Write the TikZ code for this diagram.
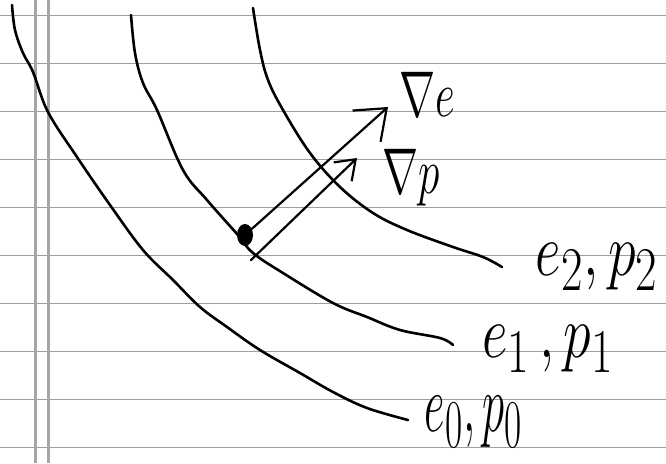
\documentclass[tikz,border=0pt]{standalone}
\usepackage{graphicx}
\usetikzlibrary{arrows.meta,shapes.geometric}
\begin{document}
\begin{tikzpicture}[x=1pt,y=-1pt,
  rule/.style={black!38,line width=0.9pt},
  marginline/.style={black!35,line width=3pt},
  level/.style={line width=2.6pt,line cap=round,line join=round},
  grad/.style={line width=2.2pt,line cap=round,line join=round},
  lab/.style={inner sep=0pt,font=\Huge}]
\fill[white] (0,0) rectangle (666,463);
\useasboundingbox (0,0) rectangle (666,463);
% ruled paper
\foreach \k in {0,...,9} \draw[rule] (0,{15+48*\k}) -- (666,{15+48*\k});
\draw[marginline] (35,0) -- (35,463);
\draw[marginline] (48,0) -- (48,463);
% level curves
\draw[level] plot[smooth,tension=0.6] coordinates {(12,5) (15,30) (23,53) (33,72) (48,112) (77,157) (110,205) (143,250) (173,280) (200,307) (227,327) (260,350) (300,373) (333,392) (367,408) (408,420)};
\draw[level] plot[smooth,tension=0.6] coordinates {(131,15) (135,53) (143,83) (157,110) (183,170) (207,200) (237,234) (253,253) (283,273) (333,303) (367,317) (400,330) (440,338) (453,345)};
\draw[level] plot[smooth,tension=0.6] coordinates {(253,8) (260,50) (268,80) (283,110) (310,153) (340,187) (373,213) (407,230) (453,247) (483,257) (502,267)};
% point and gradients
\node[ellipse,fill,minimum width=16pt,minimum height=22pt,inner sep=0pt] (dot) at (245,235) {};
\coordinate (etip) at (388,107);
\coordinate (pstart) at (251,260);
\coordinate (ptip) at (357,158);
\draw[grad,-{Straight Barb[length=27pt,width=42pt]}] (dot) -- (etip);
\draw[grad,-{Straight Barb[length=18pt,width=26pt]}] (pstart) -- (ptip);
% labels
\node[lab] (gradE) at (427,94) {\scalebox{1.74}[2.6]{$\nabla e$}};
\node[lab] (gradP) at (411,178) {\scalebox{1.74}[2.6]{$\nabla p$}};
\node[lab] (lab2) at (597,267) {\scalebox{2.25}[3.0]{$e_2, p_2$}};
\node[lab] (lab1) at (548,349) {\scalebox{2.25}[3.0]{$e_1\,, p_1$}};
\node[lab] (lab0) at (474,422) {\scalebox{1.8}[3.3]{$e_0, p_0$}};
\end{tikzpicture}
\end{document}
